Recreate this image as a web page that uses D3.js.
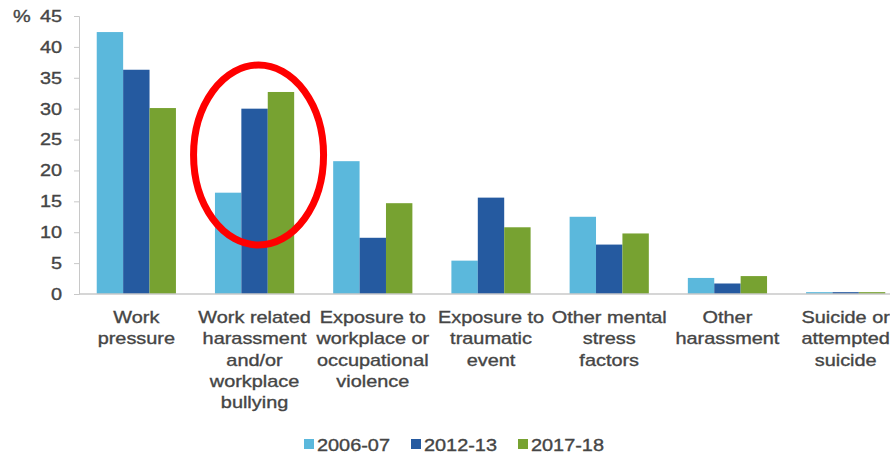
<!DOCTYPE html>
<html>
<head>
<meta charset="utf-8">
<script src="https://cdn.jsdelivr.net/npm/d3@7"></script>
<style>
  body { margin: 0; background: #fff; }
  text { font-family: "Liberation Sans", Arial, sans-serif; fill: #454545; stroke: #454545; stroke-width: 0.35px; }
</style>
</head>
<body>
<svg id="chart" width="890" height="454"></svg>
<script>
// categories and values
const categories = ['Work pressure', 'Work related harassment and/or workplace bullying',
    'Exposure to workplace or occupational violence', 'Exposure to traumatic event',
    'Other mental stress factors', 'Other harassment', 'Suicide or attempted suicide'];
const labelLines = [['Work', 'pressure'], ['Work related', 'harassment', 'and/or', 'workplace', 'bullying'],
    ['Exposure to', 'workplace or', 'occupational', 'violence'], ['Exposure to', 'traumatic', 'event'],
    ['Other mental', 'stress', 'factors'], ['Other', 'harassment'], ['Suicide or', 'attempted', 'suicide']];
const years = ['2006-07', '2012-13', '2017-18'];
const v2006 = [42.4, 16.4, 21.5, 5.4, 12.5, 2.6, 0.3];
const v2012 = [36.3, 30.0, 9.1, 15.6, 8.0, 1.7, 0.3];
const v2017 = [30.1, 32.7, 14.7, 10.8, 9.8, 2.9, 0.3];
const yTicks = [0, 5, 10, 15, 20, 25, 30, 35, 40, 45];
const colors = ['#5bb8dc', '#255aa0', '#77a231'];

const series = [v2006, v2012, v2017];
const svg = d3.select('#chart');
const sx = 1.17; // text in the picture is a bit wide

const x0 = d3.scaleBand().domain(categories).range([79, 903]).paddingInner(0.33).paddingOuter(0.15);
const x1 = d3.scaleBand().domain(years).range([0, x0.bandwidth()]);
const y = d3.scaleLinear().domain([0, 45]).range([294, 16]);

// y axis
const yAxis = svg.append('g')
    .attr('transform', 'translate(79,0)')
    .call(d3.axisLeft(y).tickValues(yTicks).tickSize(5));
yAxis.select('.domain').attr('stroke', '#c8c8c8');
yAxis.selectAll('.tick line').attr('stroke', '#c8c8c8');
yAxis.selectAll('.tick text')
    .attr('x', 0)
    .attr('transform', `translate(-17,0) scale(${sx},1)`)
    .attr('fill', '#454545')
    .style('font-size', '17px')
    .style('font-family', '"Liberation Sans", Arial, sans-serif');

svg.append('text').attr('transform', `translate(13,${y(45) + 6}) scale(${sx},1)`)
    .style('font-size', '17px').text('%');

// bars
const groups = svg.append('g').selectAll('g')
    .data(categories)
    .enter().append('g')
    .attr('transform', d => `translate(${x0(d)},0)`);

groups.selectAll('rect')
    .data((d, i) => years.map((yr, j) => ({ yr, v: series[j][i] })))
    .enter().append('rect')
    .attr('x', d => x1(d.yr))
    .attr('y', d => y(d.v))
    .attr('width', x1.bandwidth())
    .attr('height', d => y(0) - y(d.v))
    .attr('fill', (d, j) => colors[j]);

// x baseline
svg.append('line').attr('x1', 79).attr('x2', 890).attr('y1', y(0)).attr('y2', y(0))
    .attr('stroke', '#c8c8c8').attr('stroke-width', 1.5);

// category labels
svg.append('g').selectAll('text')
    .data(categories)
    .enter().append('text')
    .attr('text-anchor', 'middle')
    .style('font-size', '17px')
    .attr('transform', d => `translate(${x0(d) + x0.bandwidth() / 2},323) scale(${sx},1)`)
    .each(function (d, i) {
        d3.select(this).selectAll('tspan')
            .data(labelLines[i])
            .enter().append('tspan')
            .attr('x', 0)
            .attr('dy', (t, k) => k === 0 ? 0 : 21.3)
            .text(t => t);
    });

// legend
const legendX = [304, 411, 518];
const legend = svg.append('g').selectAll('g')
    .data(years)
    .enter().append('g')
    .attr('transform', (d, i) => `translate(${legendX[i]},439)`);
legend.append('rect').attr('width', 10).attr('height', 10).attr('fill', (d, i) => colors[i]);
legend.append('text').attr('transform', `translate(13,12) scale(${sx},1)`)
    .style('font-size', '17px').text(d => d);

// red highlight ellipse around the harassment group
const hx = x0(categories[1]) + x0.bandwidth() / 2;
svg.append('ellipse')
    .attr('cx', hx + 4).attr('cy', 155)
    .attr('rx', 65).attr('ry', 90)
    .attr('fill', 'none').attr('stroke', '#f00').attr('stroke-width', 7);
</script>
</body>
</html>
